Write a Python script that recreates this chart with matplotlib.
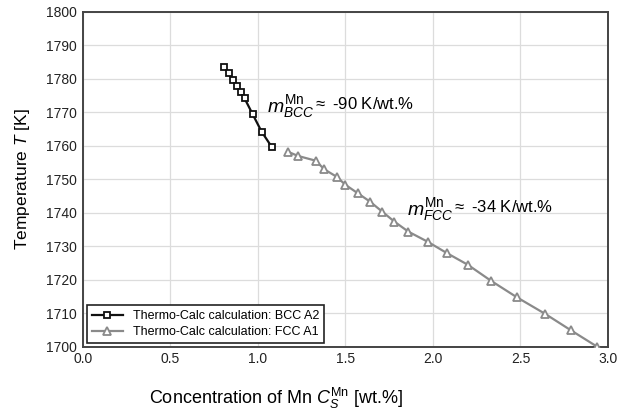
import matplotlib
matplotlib.use("Agg")
import matplotlib.pyplot as plt

plt.rcParams['font.family'] = ['Liberation Sans', 'DejaVu Sans']
plt.rcParams['mathtext.fontset'] = 'custom'
plt.rcParams['mathtext.rm'] = 'Liberation Sans'
plt.rcParams['mathtext.it'] = 'Liberation Sans:italic'
plt.rcParams['mathtext.bf'] = 'Liberation Sans:bold'

bcc_x = [0.806, 0.834, 0.859, 0.882, 0.901, 0.924, 0.970, 1.021, 1.078]
bcc_T = [1783.5, 1781.7, 1779.7, 1778.0, 1776.2, 1774.2, 1769.5, 1764.3, 1759.8]

fcc_x = [1.17, 1.23, 1.33, 1.38, 1.45, 1.50, 1.57, 1.64, 1.71, 1.78, 1.86,
         1.97, 2.08, 2.20, 2.33, 2.48, 2.64, 2.79, 2.94]
fcc_T = [1758.3, 1757.0, 1755.6, 1753.0, 1750.8, 1748.4, 1745.9, 1743.4, 1740.4,
         1737.4, 1734.4, 1731.4, 1728.0, 1724.5, 1719.8, 1714.8, 1709.9, 1704.9, 1700.0]

label_bcc = 'Thermo-Calc calculation: BCC A2'
label_fcc = 'Thermo-Calc calculation: FCC A1'
x_ticks = [0.0, 0.5, 1.0, 1.5, 2.0, 2.5, 3.0]
y_ticks = list(range(1700, 1801, 10))

fig = plt.figure(figsize=(6.32, 4.12), dpi=100)
ax = fig.add_axes([0.131, 0.158, 0.831, 0.813])

ax.plot(bcc_x, bcc_T, color='#111111', lw=1.6, marker='s', markersize=4.8,
        markerfacecolor='white', markeredgecolor='#111111', markeredgewidth=1.3,
        label=label_bcc, zorder=4)
ax.plot(fcc_x, fcc_T, color='#8a8a8a', lw=1.6, marker='^', markersize=6,
        markerfacecolor='white', markeredgecolor='#8a8a8a', markeredgewidth=1.3,
        label=label_fcc, zorder=3)

ax.set_xlim(0, 3.0)
ax.set_ylim(1700, 1800)
ax.set_xticks(x_ticks)
ax.set_xticklabels([f'{v:.1f}' for v in x_ticks])
ax.set_yticks(y_ticks)
ax.grid(True, color='#dcdcdc', lw=0.9)
ax.set_axisbelow(True)
ax.tick_params(length=0, labelsize=10, colors='#222222', pad=4)
for s in ax.spines.values():
    s.set_color('#444444')
    s.set_linewidth(1.4)

ax.set_xlabel(r'Concentration of Mn $C_S^{\mathrm{Mn}}$ [wt.%]', fontsize=13, labelpad=9)
ax.xaxis.set_label_coords(0.368, -0.115)
ax.set_ylabel(r'Temperature $T$ [K]', fontsize=12.5, labelpad=10)

ax.text(1.053, 1770.0, r'$m_{BCC}^{\mathrm{Mn}}$', fontsize=14, ha='left', va='baseline')
ax.text(1.314, 1771.0, r'$\approx$ -90 K/wt.%', fontsize=12, ha='left', va='baseline')
ax.text(1.853, 1739.4, r'$m_{FCC}^{\mathrm{Mn}}$', fontsize=14, ha='left', va='baseline')
ax.text(2.109, 1740.3, r'$\approx$ -34 K/wt.%', fontsize=12, ha='left', va='baseline')

leg = ax.legend(loc='lower left', fontsize=9, fancybox=False, framealpha=1,
                edgecolor='#222222', borderaxespad=0.3, handlelength=2.5,
                borderpad=0.4, labelspacing=0.3)
leg.get_frame().set_linewidth(1.2)

fig.savefig('out.png', dpi=100)
